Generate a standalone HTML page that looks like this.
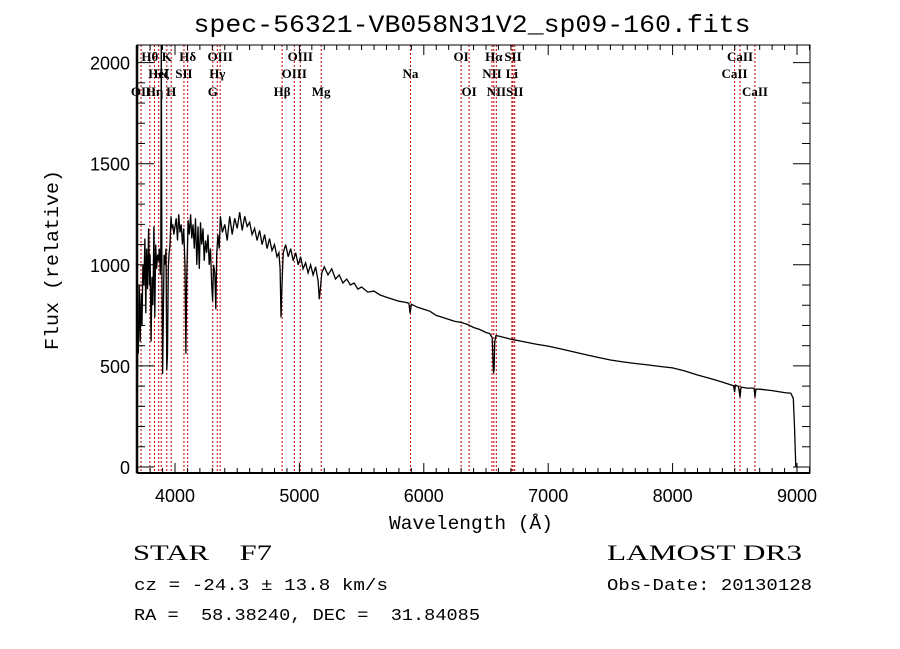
<!DOCTYPE html>
<html><head><meta charset="utf-8"><style>
html,body{margin:0;padding:0;background:#fff;}
svg{display:block;font-family:"Liberation Sans",sans-serif;}
.t{font-family:"Liberation Mono",monospace;}
.ll{font-family:"Liberation Serif",serif;font-size:13px;font-weight:bold;}
text{white-space:pre;}
</style></head><body>
<svg id="chart" width="900" height="649" viewBox="0 0 900 649" xml:space="preserve">
<rect width="900" height="649" fill="#fff"/>
<text x="472" y="32" font-size="25" text-anchor="middle" class="t" textLength="557" lengthAdjust="spacingAndGlyphs">spec-56321-VB058N31V2_sp09-160.fits</text>
<defs><clipPath id="pc"><rect x="137" y="45" width="673" height="428"/></clipPath></defs>
<g id="lines" clip-path="url(#pc)"></g>
<g id="labels"></g>
<path id="spec" clip-path="url(#pc)" fill="none" stroke="#000" stroke-width="1.3" stroke-linejoin="miter"/>
<g id="axes"></g>
<text x="471" y="529" font-size="19" text-anchor="middle" class="t" textLength="164" lengthAdjust="spacingAndGlyphs">Wavelength (Å)</text>
<text transform="translate(58,260) rotate(-90)" font-size="19" text-anchor="middle" class="t" textLength="180" lengthAdjust="spacingAndGlyphs">Flux (relative)</text>
<text x="133" y="560" font-size="22" font-family="Liberation Serif,serif" textLength="139" lengthAdjust="spacingAndGlyphs">STAR    F7</text>
<text x="607" y="560" font-size="22" font-family="Liberation Serif,serif" textLength="195" lengthAdjust="spacingAndGlyphs">LAMOST DR3</text>
<text x="134" y="590" font-size="17" class="t" textLength="254" lengthAdjust="spacingAndGlyphs">cz = -24.3 ± 13.8 km/s</text>
<text x="607" y="590" font-size="17" class="t" textLength="205" lengthAdjust="spacingAndGlyphs">Obs-Date: 20130128</text>
<text x="134" y="620" font-size="17" class="t" textLength="346" lengthAdjust="spacingAndGlyphs">RA =  58.38240, DEC =  31.84085</text>
</svg>
<script>
const wl=[3695,3700,3705,3712,3720,3728,3735,3742,3750,3758,3765,3772,3780,3788,3795,3800,3808,3815,3822,3830,3838,3845,3852,3860,3868,3875,3882,3886,3890,3895,3900,3905,3912,3920,3928,3934,3940,3946,3952,3960,3968,3975,3982,3990,4000,4010,4020,4030,4040,4050,4060,4070,4080,4088,4095,4105,4115,4125,4135,4145,4155,4165,4175,4185,4195,4205,4215,4225,4235,4245,4255,4265,4275,4285,4295,4302,4310,4320,4328,4335,4345,4355,4365,4380,4400,4420,4440,4460,4480,4500,4520,4540,4560,4580,4600,4620,4640,4660,4680,4700,4720,4740,4760,4780,4800,4820,4835,4845,4852,4860,4870,4890,4910,4930,4950,4970,4990,5010,5030,5050,5070,5090,5110,5130,5150,5160,5168,5180,5200,5230,5260,5290,5320,5350,5380,5410,5440,5470,5500,5550,5600,5650,5700,5750,5800,5850,5880,5890,5900,5950,6000,6050,6100,6150,6200,6250,6300,6350,6400,6450,6500,6530,6550,6560,6565,6570,6580,6600,6700,6800,6900,7000,7100,7200,7300,7400,7500,7600,7700,7800,7900,8000,8100,8200,8300,8400,8490,8498,8505,8530,8542,8550,8600,8655,8662,8670,8700,8800,8900,8950,8970,8980,8990];
const flux=[0,650,560,900,620,860,700,1000,900,1130,760,1080,880,1180,900,1050,620,940,800,1190,740,1100,980,1050,1020,1080,950,1060,2150,1000,460,700,1050,1000,1080,480,560,980,1050,1100,1240,1180,1200,1150,1190,1230,1120,1250,1160,1200,1100,1180,1000,560,950,1220,1150,1250,1130,1200,1080,1230,1000,1190,980,1210,1100,1180,1020,1120,1060,1150,1000,1080,900,820,1000,960,780,1050,1150,1080,1240,1160,1200,1120,1240,1150,1230,1180,1260,1170,1240,1190,1210,1150,1180,1120,1170,1100,1150,1080,1130,1070,1100,1040,1060,980,740,900,1060,1100,1040,1080,1020,1060,1000,1040,980,1010,960,1000,950,990,920,830,880,960,990,950,980,930,950,910,930,900,910,880,890,865,870,850,840,830,820,815,810,760,805,790,780,770,750,740,730,720,715,705,690,680,665,660,640,465,480,620,650,648,632,620,608,598,584,570,556,542,529,520,512,505,497,490,475,455,438,420,402,370,405,398,345,395,390,390,345,385,385,378,368,365,340,200,0];
const lineWl=[3727,3798,3835,3869,3889,3934,3969,4072,4102,4304,4340,4363,4861,4959,5007,5175,5893,6300,6364,6548,6563,6583,6708,6717,6731,8498,8542,8662];
const lineName=["OII","Hθ","Hη","HeI","Hζ","K","H","SII","Hδ","G","Hγ","OIII","Hβ","OIII","OIII","Mg","Na","OI","OI","NII","Hα","NII","Li","SII","SII","CaII","CaII","CaII"];
const lineRow=[3,1,3,2,2,1,3,2,1,3,2,1,3,2,1,3,2,1,3,2,1,3,2,1,3,2,1,3];
const xTicks=[4000,5000,6000,7000,8000,9000];
const yTicks=[0,500,1000,1500,2000];
const X0=137,X1=810,Y0=45,Y1=473;
const xs=v=>175+(v-4000)*0.1244;
const ys=v=>467-v*0.2022;
const NS="http://www.w3.org/2000/svg";
function mk(tag,parent,attrs){const e=document.createElementNS(NS,tag);for(const k in attrs)e.setAttribute(k,attrs[k]);parent.appendChild(e);return e;}
let d="";
for(let i=0;i<wl.length;i++){const x=xs(wl[i]).toFixed(1),y=ys(flux[i]).toFixed(1);
 d+=(i===0?"M":"L")+x+","+y;}
document.getElementById('spec').setAttribute('d',d);
const lg=document.getElementById('lines'),lb=document.getElementById('labels');
const rowY={1:61,2:78,3:96};
for(let i=0;i<lineWl.length;i++){
 const x=xs(lineWl[i]);
 const l=mk('line',lg,{x1:x,x2:x,y1:Y0,y2:Y1,stroke:"#c00000","stroke-width":1,"stroke-dasharray":"2,2"});
 
 
 const t=mk('text',lb,{x:x,y:rowY[lineRow[i]],"text-anchor":"middle",class:"ll"});
 t.textContent=lineName[i];
 
 
}
const ax=document.getElementById('axes');
const fr=mk('rect',ax,{x:X0,y:Y0,width:X1-X0,height:Y1-Y0,fill:"none",stroke:"#000","stroke-width":1});


mk('line',ax,{x1:X0,x2:X0,y1:Y0,y2:Y1,stroke:"#000","stroke-width":2.5});
mk('line',ax,{x1:X0,x2:X1,y1:Y1,y2:Y1,stroke:"#000","stroke-width":2});
for(let v=3700;v<=9100;v+=100){const x=xs(v);if(x<X0||x>X1)continue;const L=(v%1000===0)?10:5;
 mk('line',ax,{x1:x,x2:x,y1:Y1,y2:Y1-L,stroke:"#000","stroke-width":1});
 mk('line',ax,{x1:x,x2:x,y1:Y0,y2:Y0+L,stroke:"#000","stroke-width":1});}
for(let v=0;v<=2000;v+=100){const y=ys(v);const L=(v%500===0)?17:8;
 mk('line',ax,{x1:X0,x2:X0+L,y1:y,y2:y,stroke:"#000","stroke-width":1});
 mk('line',ax,{x1:X1,x2:X1-L,y1:y,y2:y,stroke:"#000","stroke-width":1});}
xTicks.forEach(v=>{const t=mk('text',ax,{x:xs(v),y:502,"font-size":18,"text-anchor":"middle"});t.textContent=v;
 
 });
yTicks.forEach(v=>{const t=mk('text',ax,{x:130,y:ys(v)+7,"font-size":18,"text-anchor":"end"});t.textContent=v;
 
 });
</script>
</body></html>
